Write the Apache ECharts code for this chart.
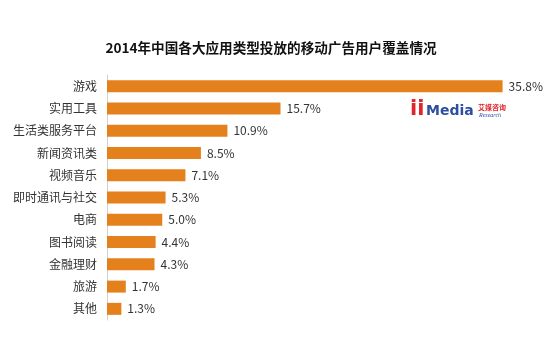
<!DOCTYPE html>
<html>
<head>
<meta charset="utf-8">
<script src="https://cdn.jsdelivr.net/npm/echarts@6/dist/echarts.min.js"></script>
<style>
  html, body { margin: 0; padding: 0; background: #fff; }
  #chart { width: 554px; height: 344px; }
</style>
</head>
<body>
<div id="chart"></div>
<script>
// App categories, top to bottom
const categories = ['游戏', '实用工具', '生活类服务平台', '新闻资讯类', '视频音乐', '即时通讯与社交', '电商', '图书阅读', '金融理财', '旅游', '其他'];
// Mobile ad user coverage (%)
const coverage = [35.8, 15.7, 10.9, 8.5, 7.1, 5.3, 5.0, 4.4, 4.3, 1.7, 1.3];

const chart = echarts.init(document.getElementById('chart'), null, { renderer: 'canvas' });
const font = '"Microsoft YaHei", "Noto Sans CJK SC", sans-serif';

chart.setOption({
  animation: false,
  backgroundColor: '#ffffff',
  title: {
    text: '2014年中国各大应用类型投放的移动广告用户覆盖情况',
    left: 266,
    textAlign: 'center',
    top: 36,
    textStyle: { fontFamily: font, fontSize: 13.6, fontWeight: 'bold', color: '#111' }
  },
  grid: { left: 107, top: 75, width: 442, height: 245, containLabel: false },
  xAxis: {
    type: 'value',
    min: 0,
    max: 40,
    show: false
  },
  yAxis: {
    type: 'category',
    inverse: true,
    data: categories,
    axisLine: { show: true, lineStyle: { color: '#d0d0d0', width: 1 } },
    axisTick: { show: false },
    axisLabel: { margin: 10, fontFamily: font, fontSize: 12, color: '#333' }
  },
  series: [{
    type: 'bar',
    data: coverage,
    barWidth: 12,
    itemStyle: { color: '#E5811D' },
    label: {
      show: true,
      position: 'right',
      distance: 6,
      fontFamily: font,
      fontSize: 12,
      color: '#333',
      formatter: p => p.value.toFixed(1) + '%'
    }
  }],
  graphic: [
    { type: 'text', left: 410, top: 99, style: { text: 'ii', font: '900 21px "DejaVu Sans", sans-serif', fill: '#E0262B' } },
    { type: 'text', left: 426, top: 104, style: { text: 'Media', font: '900 14px "DejaVu Sans", sans-serif', fill: '#2E4FA0' } },
    { type: 'text', left: 478, top: 104, style: { text: '艾媒咨询', font: 'bold 7px "Noto Sans CJK SC", sans-serif', fill: '#E0262B' } },
    { type: 'text', left: 479, top: 112, style: { text: 'Research', font: 'italic 6px "Liberation Serif", serif', fill: '#2E4FA0' } }
  ]
});
</script>
</body>
</html>
